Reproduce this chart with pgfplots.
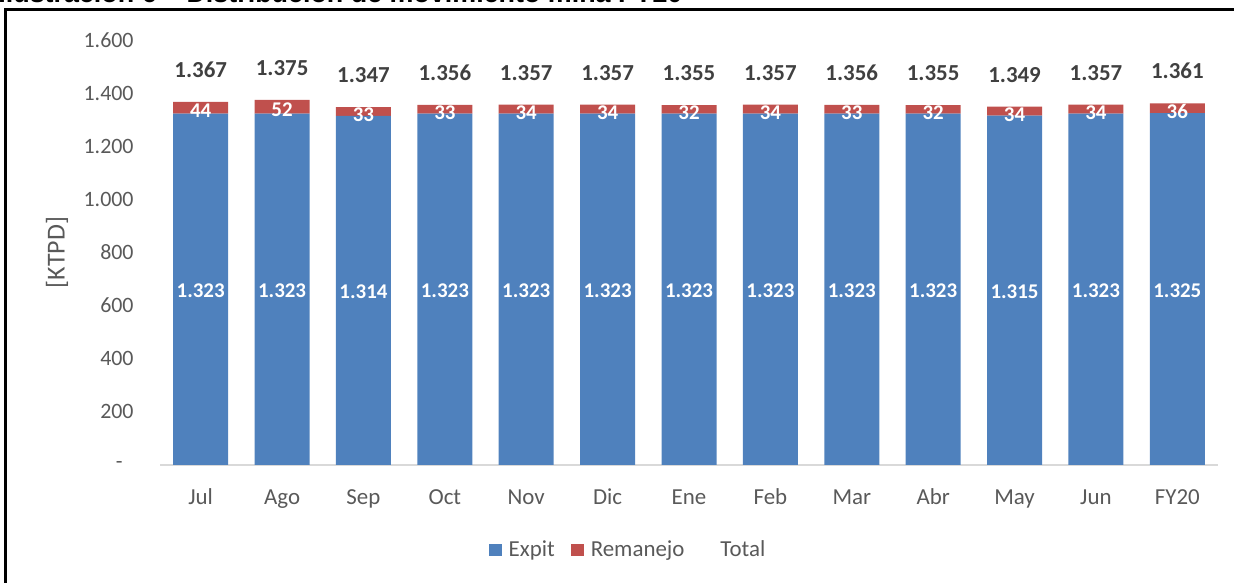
\documentclass[border=0pt]{standalone}
\usepackage{fontspec}
\setmainfont{Carlito}
\newfontfamily\titlefont{Liberation Sans}
\usepackage{pgfplots}
\usepackage{pgfplotstable}
\pgfplotsset{compat=1.18}
\definecolor{ExpitBlue}{HTML}{4F81BD}
\definecolor{RemRed}{HTML}{C0504D}
\definecolor{TickGray}{HTML}{595959}
\definecolor{LabelGray}{HTML}{404040}
\definecolor{AxisGray}{HTML}{D9D9D9}

% KTPD por mes; total = expit + remanejo
\pgfplotstableread{
x expit remanejo total
0  1323 44 1367
1  1323 52 1375
2  1314 33 1347
3  1323 33 1356
4  1323 34 1357
5  1323 34 1357
6  1323 32 1355
7  1323 34 1357
8  1323 33 1356
9  1323 32 1355
10 1315 34 1349
11 1323 34 1357
12 1325 36 1361
}\minadata

\newcommand\lbl{\pgfmathprintnumber[assume math mode=true,1000 sep={.}]{\pgfplotspointmeta}}
\pgfplotsset{
  chartframe/.style={
    at={(80bp,59bp)}, anchor=south west,
    scale only axis, width=529bp, height=212.5bp,
    xmin=-0.5, xmax=12.5, ymin=0, ymax=1600,
  },
}

\begin{document}
\begin{tikzpicture}
\path[use as bounding box] (0,0) rectangle (617bp,291.5bp);
% caption of the figure, cut by the top edge
\node[anchor=base west, inner sep=0pt] at (-1bp,290.3bp)
  {\resizebox{342bp}{!}{\titlefont\bfseries Ilustración 6 – Distribución de movimiento mina FY20}};
\draw[line width=1.35bp] (2.75bp,-5bp) -- (2.75bp,286.75bp) -- (625bp,286.75bp);

\begin{axis}[
  chartframe,
  ybar stacked, bar width=27.5bp,
  xtick={0,...,12},
  xticklabels={Jul,Ago,Sep,Oct,Nov,Dic,Ene,Feb,Mar,Abr,May,Jun,FY20},
  ytick={0,200,...,1600},
  yticklabels={{-\rule{5.5bp}{0pt}},200,400,600,800,1.000,1.200,1.400,1.600},
  axis x line*=bottom, axis y line*=left,
  x axis line style={draw=AxisGray, line width=0.9bp},
  y axis line style={draw=none},
  major tick length=0pt,
  tick style={draw=none},
  xticklabel style={anchor=base, inner sep=0pt, yshift=-19.5bp,
    font=\fontsize{11.5}{13}\selectfont, text=TickGray},
  yticklabel style={anchor=east, inner sep=0pt, xshift=-13bp,
    font=\fontsize{11}{13}\selectfont, text=TickGray},
  ylabel={[KTPD]},
  every axis y label/.style={at={(axis description cs:-0.0974,0.5)},
    rotate=90, anchor=center, font=\fontsize{13}{15}\selectfont, text=TickGray},
  legend columns=3,
  legend style={at={(axis description cs:0.4433,-0.2)}, anchor=center,
    draw=none, fill=none, font=\fontsize{11.5}{13}\selectfont, text=TickGray,
    /tikz/every odd column/.append style={column sep=1.5bp},
    /tikz/every even column/.append style={column sep=6bp}},
  legend image code/.code={\fill[#1] (0bp,-3bp) rectangle (6.5bp,3.2bp);},
]
\addplot[fill=ExpitBlue, draw=none] table[x=x, y=expit] {\minadata};
\addlegendentry{Expit}
\addplot[fill=RemRed, draw=none] table[x=x, y=remanejo] {\minadata};
\addlegendentry{Remanejo}
\addlegendimage{fill=white, draw=none}
\addlegendentry{Total}
\end{axis}

% data labels, same frame, not stacked
\begin{axis}[chartframe, hide axis, clip=false]
\addplot[only marks, mark=none, point meta=\thisrow{expit},
  nodes near coords=\lbl,
  every node near coord/.append style={anchor=center, inner sep=0pt, yshift=-0.6bp,
    font=\fontsize{10.5}{12}\selectfont\bfseries, text=white}]
  table[x=x, y expr=\thisrow{expit}/2] {\minadata};
\addplot[only marks, mark=none, point meta=\thisrow{remanejo},
  nodes near coords=\lbl,
  every node near coord/.append style={anchor=center, inner sep=0pt, yshift=-1.6bp,
    font=\fontsize{10.5}{12}\selectfont\bfseries, text=white}]
  table[x=x, y expr=\thisrow{expit}+\thisrow{remanejo}/2] {\minadata};
\addplot[only marks, mark=none, point meta=\thisrow{total},
  nodes near coords=\lbl,
  every node near coord/.append style={anchor=base, inner sep=0pt, yshift=12.25bp,
    font=\fontsize{11.5}{13}\selectfont\bfseries, text=LabelGray}]
  table[x=x, y=total] {\minadata};
\end{axis}
\end{tikzpicture}
\end{document}
